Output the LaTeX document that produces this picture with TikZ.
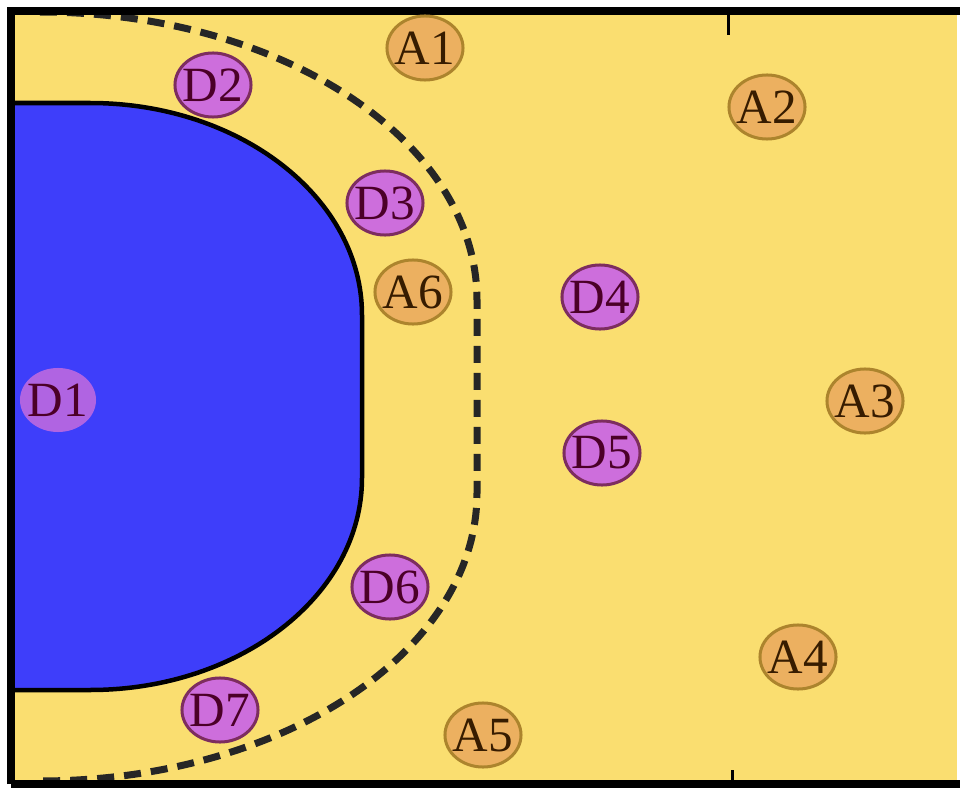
\documentclass[tikz,border=0pt]{standalone}
\usepackage{fontspec}
\setmainfont{Liberation Serif}
\usetikzlibrary{shapes.geometric}

\definecolor{courtyellow}{RGB}{250,222,112}
\definecolor{goalblue}{RGB}{62,62,250}
\definecolor{deffill}{RGB}{205,110,220}
\definecolor{defline}{RGB}{125,45,95}
\definecolor{deftext}{RGB}{75,0,40}
\definecolor{attfill}{RGB}{236,176,96}
\definecolor{attline}{RGB}{172,132,45}
\definecolor{atttext}{RGB}{55,28,0}

\begin{document}
\begin{tikzpicture}[
    x=0.01cm, y=0.01cm,
    player/.style={ellipse, inner xsep=-3pt, inner ysep=0pt,
                   minimum width=0.76cm, minimum height=0.64cm,
                   line width=0.03cm, font=\fontsize{14}{16}\selectfont},
    defender/.style={player, draw=defline, fill=deffill, text=deftext},
    attacker/.style={player, draw=attline, fill=attfill, text=atttext},
    courtline/.style={line width=0.08cm, black},
    freethrow/.style={line width=0.07cm, black!85,
                      dash pattern=on 0.17cm off 0.10cm}
  ]
  \useasboundingbox (0,0) rectangle (960,787);
  \fill[white] (0,0) rectangle (960,787);

  % court
  \fill[courtyellow] (11,3) rectangle (957,776);

  % goal area
  \draw[line width=0.045cm, fill=goalblue]
    (11,684) -- (90,684)
    arc[start angle=90, end angle=0, x radius=272, y radius=212]
    -- (362,309)
    arc[start angle=0, end angle=-90, x radius=272, y radius=212]
    -- (11,97) -- cycle;

  % free throw line
  \begin{scope}
    \clip (11,3) rectangle (957,776);
    \draw[freethrow] (40,775)
      arc[start angle=90, end angle=0, x radius=437, y radius=288]
      -- (477,294)
      arc[start angle=0, end angle=-90, x radius=437, y radius=288];
  \end{scope}

  % borders and centre ticks
  \draw[courtline] (11,3) -- (11,776) -- (960,776);
  \draw[courtline] (11,3) -- (960,3);
  \draw[line width=0.03cm] (728,776) -- (728,752);
  \draw[line width=0.03cm] (732,3) -- (732,17);

  % defenders
  \node[defender, fill opacity=0.8, text opacity=1, draw=none] (d1) at (58,387) {D1};
  \node[defender] (d2) at (213,702) {D2};
  \node[defender] (d3) at (385,584) {D3};
  \node[defender] (d4) at (600,490) {D4};
  \node[defender] (d5) at (602,334) {D5};
  \node[defender] (d6) at (390,200) {D6};
  \node[defender] (d7) at (220,77) {D7};

  % attackers
  \node[attacker] (a1) at (425,739) {A1};
  \node[attacker] (a2) at (767,680) {A2};
  \node[attacker] (a3) at (865,386) {A3};
  \node[attacker] (a4) at (798,130) {A4};
  \node[attacker] (a5) at (483,52) {A5};
  \node[attacker] (a6) at (413,495) {A6};
\end{tikzpicture}
\end{document}
